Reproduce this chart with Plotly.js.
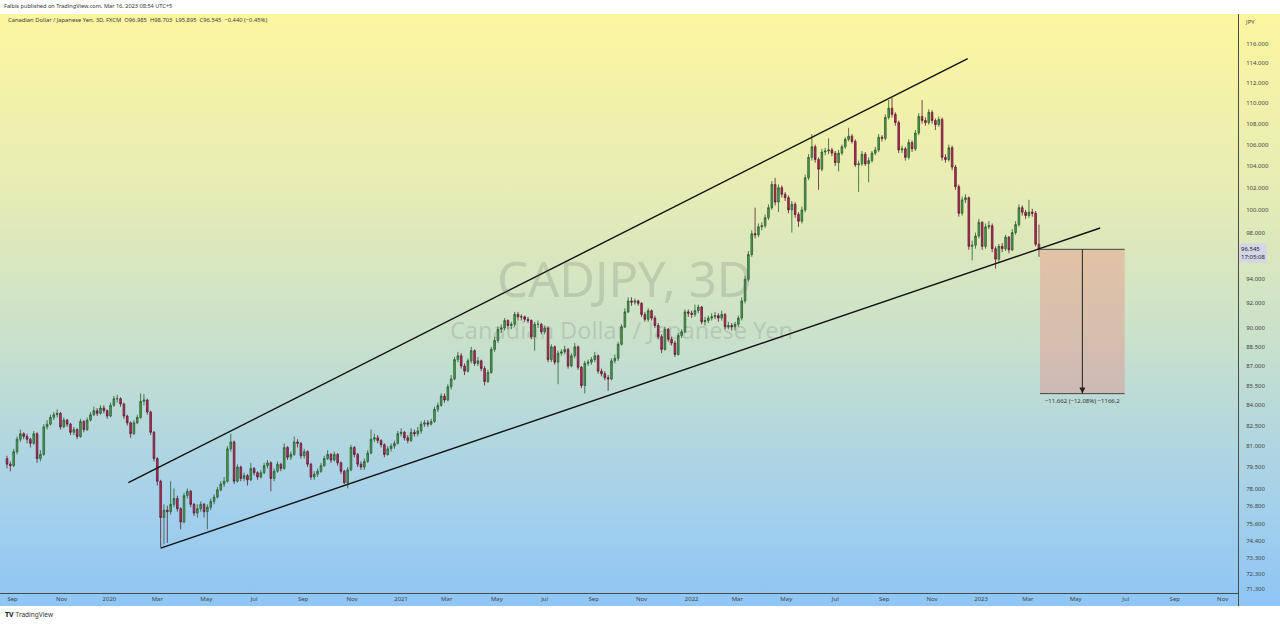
<!DOCTYPE html>
<html><head><meta charset="utf-8">
<script src="https://cdn.plot.ly/plotly-3.0.1.min.js"></script>
<style>
html,body{margin:0;padding:0;width:1280px;height:624px;overflow:hidden;background:#fff;font-family:"Noto Sans","DejaVu Sans",sans-serif;}
#bg{position:absolute;left:0;top:14px;width:1280px;height:592px;background:linear-gradient(to bottom,#fdf6a0 0%,#e6ecb4 30%,#c9e1cb 55%,#aad3e6 78%,#8fc6f6 100%);}
#plot{position:absolute;left:0;top:0;width:1280px;height:624px;}
#hdr{position:absolute;left:4px;top:2px;font-size:5.6px;color:#333;white-space:nowrap;}
#leg{position:absolute;left:8px;top:16px;font-size:5.8px;color:#3a3a3a;white-space:nowrap;}
#ftr{position:absolute;left:5px;top:610px;font-size:6.5px;color:#333;white-space:nowrap;}
#ftr b{font-size:7px;color:#111;margin-right:2px;}
#vline{position:absolute;left:1238px;top:593px;width:1px;height:13px;background:#4a4a4a;}
</style></head>
<body>
<div id="bg"></div>
<div id="vline"></div>
<div id="plot"></div>
<div id="hdr">Falbis published on TradingView.com, Mar 16, 2023 08:54 UTC+5</div>
<div id="leg">Canadian Dollar / Japanese Yen, 3D, FXCM&nbsp; O96.985&nbsp; H98.703&nbsp; L95.895&nbsp; C96.545&nbsp; −0.440 (−0.45%)</div>
<div id="ftr"><b>TV</b>TradingView</div>
<script>
// ---- data (3-day candles, FX: open = previous close) ----
const startDate = '2019-08-26';
const firstOpen = 80.1;
const closes = [
79.7,79.6,80.6,81.5,81.9,81.7,81.5,81.2,81.9,80.1,
80.4,82.4,82.6,83.1,83.3,83.4,82.4,82.9,82.6,82.0,
82.2,81.7,82.8,82.2,82.9,83.3,83.6,83.4,83.8,83.6,
83.2,84.0,84.5,84.5,84.1,83.2,82.7,81.9,82.7,83.1,
84.3,84.4,83.5,82.0,80.1,78.5,76.0,76.5,76.4,76.9,
77.3,76.6,75.7,77.5,77.8,76.9,76.3,76.6,76.9,76.4,
76.7,77.1,77.4,77.9,78.3,78.5,80.8,81.3,78.5,79.5,
78.7,78.9,78.6,79.4,79.1,78.8,79.1,79.6,79.8,78.7,
79.2,79.7,79.4,80.9,80.2,80.4,81.3,81.2,80.3,80.6,
79.7,78.8,79.0,79.2,79.6,80.1,80.4,80.0,80.4,79.8,
79.2,78.4,79.3,80.9,80.4,79.7,79.5,79.9,80.5,81.5,
81.6,81.4,81.1,80.4,80.8,81.0,81.2,81.9,82.0,81.6,
81.4,82.0,81.9,82.1,82.6,82.7,82.6,82.8,83.7,84.0,
84.7,84.4,85.4,86.0,87.5,87.8,87.0,86.6,87.4,88.2,
87.2,87.4,86.8,85.8,86.5,88.3,89.0,89.9,90.0,90.6,
90.2,90.3,91.1,90.9,90.9,90.7,90.6,89.3,90.3,90.3,
89.7,90.0,87.5,88.5,87.3,88.0,88.1,88.3,87.0,87.8,
88.5,86.9,85.5,87.2,87.3,87.5,87.8,86.6,86.4,86.1,
86.0,87.4,87.6,88.7,90.1,91.3,92.2,92.1,92.2,92.0,
91.1,90.7,91.4,90.8,90.2,89.3,88.3,89.9,89.1,88.8,
87.9,89.4,89.7,91.3,91.2,91.1,91.4,91.7,90.5,90.6,
90.8,90.9,91.0,90.8,91.1,90.1,90.2,90.1,90.3,90.8,
92.2,94.0,96.1,97.9,97.8,98.5,98.6,99.3,100.2,102.3,
100.7,102.0,101.4,101.1,100.0,100.5,99.6,99.0,100.0,102.9,
104.8,105.8,104.6,103.7,105.3,105.4,105.5,105.2,104.3,105.2,
105.8,106.5,106.8,106.3,104.1,104.2,105.1,104.2,104.5,105.2,
105.5,106.7,106.6,108.6,109.5,108.9,108.1,105.5,105.6,104.8,
106.2,105.6,107.1,108.7,108.3,108.1,109.1,108.3,107.9,108.4,
104.8,104.6,105.7,103.9,102.1,99.7,100.9,101.1,96.8,96.9,
97.7,98.9,96.8,98.5,98.6,96.6,95.7,96.8,96.6,97.6,
96.5,98.0,98.7,100.2,99.8,99.5,99.8,99.7,96.985,96.545];
const highs = [
80.3,79.9,80.8,81.7,82.2,82.0,81.9,81.6,82.1,82.0,
80.7,82.6,82.9,83.3,83.5,83.7,83.5,83.1,83.0,82.7,
82.4,82.3,83.0,82.9,83.1,83.5,83.9,83.8,84.0,84.0,
83.7,84.2,84.7,84.8,84.6,84.2,83.3,82.8,82.9,83.3,
84.9,84.85,84.5,83.6,82.1,80.2,78.6,76.9,76.8,78.5,
78.0,77.5,76.7,77.7,78.0,77.9,77.0,76.9,77.1,77.0,
76.9,77.3,77.6,78.1,78.5,78.8,81.0,81.9,81.4,79.7,
79.6,79.1,79.0,79.8,79.5,79.2,79.3,79.8,80.0,79.9,
79.4,79.9,79.8,81.2,81.0,80.6,81.7,81.5,81.3,80.8,
80.7,79.8,79.2,79.4,79.8,80.3,80.7,80.5,80.6,80.5,
79.9,79.3,79.5,81.1,81.0,80.5,79.9,80.1,80.7,82.2,
81.9,81.8,81.5,81.2,81.0,81.2,81.4,82.1,82.3,82.1,
81.8,82.3,82.2,82.4,82.8,82.9,82.9,83.0,83.9,84.2,
84.9,84.9,85.6,86.3,87.7,88.1,88.0,87.2,87.6,88.5,
88.3,87.7,87.5,87.0,86.7,88.5,89.3,90.1,90.3,90.8,
90.7,90.5,91.3,91.3,91.1,91.0,90.9,90.7,90.5,90.6,
90.4,90.2,90.1,88.7,88.6,88.2,88.3,88.6,88.4,88.0,
88.8,88.6,87.0,87.4,87.5,87.7,88.1,87.9,86.8,86.6,
86.3,87.6,87.9,88.9,90.3,91.6,92.5,92.5,92.4,92.3,
92.1,91.3,91.6,91.5,91.0,90.4,89.5,90.1,90.0,89.3,
89.0,89.6,89.9,91.5,91.5,91.4,91.9,91.9,91.8,90.9,
91.0,91.2,91.3,91.2,91.4,91.2,90.5,90.4,90.5,91.0,
92.5,94.3,96.4,98.2,100.2,98.8,98.9,99.6,100.5,102.6,
102.9,102.3,102.2,101.6,101.3,100.8,100.7,99.8,100.3,103.2,
105.1,107.0,106.0,104.8,105.6,105.7,106.6,105.7,105.4,105.5,
106.0,106.7,107.6,107.0,106.5,104.5,105.4,105.3,104.8,105.4,
105.8,107.0,106.9,108.9,110.3,110.5,109.1,108.3,105.9,105.8,
106.5,106.4,107.4,109.0,110.3,108.6,109.4,109.3,108.5,108.7,
108.6,105.1,106.0,105.9,104.1,102.3,101.2,101.4,101.2,97.3,
98.0,99.2,99.0,98.8,99.0,98.8,96.8,97.0,97.1,97.8,
97.7,98.3,99.0,100.5,100.4,100.0,100.9,100.1,99.9,98.703];
const lows = [
79.4,79.2,79.5,80.4,81.3,81.5,81.2,80.9,81.1,79.8,
79.9,80.3,82.2,82.5,82.9,83.1,82.2,82.3,82.4,81.8,
81.8,81.5,81.6,82.0,82.1,82.8,83.2,83.2,83.3,83.4,
83.0,83.1,83.9,84.2,83.9,83.0,82.5,81.6,81.8,82.6,
83.0,84.0,83.3,81.8,79.9,78.2,74.0,74.2,74.3,76.2,
76.7,76.4,75.2,75.6,77.3,76.7,76.1,76.0,76.4,76.0,
75.2,76.5,76.9,77.3,77.8,78.1,78.4,80.6,78.3,78.4,
78.5,78.5,78.2,78.5,78.9,78.6,78.7,79.0,79.4,77.8,
78.5,79.1,79.2,79.3,80.0,80.0,80.3,80.9,80.1,80.1,
79.5,78.6,78.6,78.8,79.1,79.5,80.0,79.8,79.9,79.6,
79.0,78.3,78.0,79.2,80.2,79.5,79.3,79.3,79.8,80.4,
81.3,81.2,80.9,80.2,80.3,80.6,80.8,81.1,81.7,81.4,
81.2,81.3,81.7,81.7,81.9,82.4,82.4,82.5,82.7,83.5,
83.9,84.2,84.3,85.2,85.9,87.3,86.8,86.3,86.5,87.2,
87.0,87.0,86.6,85.5,85.7,86.4,88.1,88.8,89.6,89.8,
89.9,89.9,90.1,90.6,90.6,90.5,90.4,89.1,88.2,90.0,
89.5,89.5,87.3,87.3,87.1,85.6,87.8,87.9,86.8,86.9,
87.6,86.7,85.3,84.9,87.0,87.1,87.3,86.4,86.2,85.9,
85.1,85.9,87.2,87.4,88.6,90.0,91.2,91.8,91.9,91.8,
90.9,90.5,90.5,90.6,90.0,89.1,88.0,88.2,88.9,88.6,
87.7,87.8,89.2,89.6,90.9,90.8,90.9,91.2,90.3,90.2,
90.4,90.6,90.7,90.5,90.6,89.9,89.9,89.8,89.8,90.1,
90.6,92.0,93.8,95.9,97.5,97.6,98.2,98.4,99.1,100.0,
100.4,99.8,101.1,100.8,99.7,98.0,99.3,98.5,98.8,99.8,
102.7,104.5,104.3,101.8,103.5,105.0,105.1,104.9,104.0,103.5,
105.0,105.6,106.3,106.1,103.9,101.6,104.0,104.0,102.5,104.3,
105.0,105.3,106.3,106.4,108.4,108.6,107.8,105.2,105.2,104.5,
104.6,105.3,105.4,106.9,108.0,107.8,107.9,108.0,107.4,107.7,
104.5,104.3,104.4,103.6,101.8,99.4,99.5,100.6,96.5,95.6,
96.6,97.5,96.5,96.6,98.3,96.3,94.9,95.4,96.3,96.4,
96.2,96.4,97.8,98.5,99.5,99.2,99.3,99.4,96.8,95.895];

const yTickVals = [71.3,72.3,73.3,74.4,75.6,76.8,78,79.5,81,82.5,84,85.5,87,88.5,90,92,94,98,100,102,104,106,108,110,112,114,116];
const xTickDates = ['2019-09-01','2019-11-01','2020-01-01','2020-03-01','2020-05-01','2020-07-01','2020-09-01','2020-11-01',
 '2021-01-01','2021-03-01','2021-05-01','2021-07-01','2021-09-01','2021-11-01','2022-01-01','2022-03-01','2022-05-01',
 '2022-07-01','2022-09-01','2022-11-01','2023-01-01','2023-03-01','2023-05-01','2023-07-01','2023-09-01','2023-11-01'];
const xTickLabels = ['Sep','Nov','2020','Mar','May','Jul','Sep','Nov','2021','Mar','May','Jul','Sep','Nov','2022','Mar','May',
 'Jul','Sep','Nov','2023','Mar','May','Jul','Sep','Nov'];

// trend lines
const upperDates = ['2020-01-24','2022-12-15'];
const upperPrices = [78.4,114.46];
const lowerDates = ['2020-03-05','2023-05-31'];
const lowerPrices = [73.95,98.4];
// price-range measure
const measureDates = ['2023-03-16','2023-06-30'];
const measureTop = 96.545;
const measureBottom = 84.883;
const measureText = '−11.662 (−12.08%) −1166.2';
const lastPrice = 96.545;
const lastTimer = '17:05:08';

// ---- mapping: 3-trading-day bar index ----
function barIndex(ds){
  const s = new Date(startDate+'T00:00:00Z'), d = new Date(ds+'T00:00:00Z');
  let n = 0; const cur = new Date(s);
  if (d >= s){ while(cur < d){ const w=cur.getUTCDay(); if(w!==0&&w!==6) n++; cur.setUTCDate(cur.getUTCDate()+1);} }
  else { while(cur > d){ cur.setUTCDate(cur.getUTCDate()-1); const w=cur.getUTCDay(); if(w!==0&&w!==6) n--; } }
  return n/3;
}
const idx = closes.map((_,i)=>i);
const opens = closes.map((c,i)=> i===0 ? firstOpen : closes[i-1]);

const traces = [
 {type:'candlestick', x:idx, open:opens, high:highs, low:lows, close:closes,
  increasing:{line:{color:'#2d5c31',width:0.8}, fillcolor:'#4ba451'},
  decreasing:{line:{color:'#5e1a33',width:0.8}, fillcolor:'#c8285b'},
  whiskerwidth:0, hoverinfo:'skip'},
 {type:'scatter', mode:'lines', x:upperDates.map(barIndex), y:upperPrices, line:{color:'#111',width:1.4}, hoverinfo:'skip'},
 {type:'scatter', mode:'lines', x:lowerDates.map(barIndex), y:lowerPrices, line:{color:'#111',width:1.4}, hoverinfo:'skip'},
];
const mx0 = barIndex(measureDates[0]), mx1 = barIndex(measureDates[1]), mxm = (mx0+mx1)/2;
traces.push(
 {type:'scatter', mode:'lines', x:[mx0,mx1,mx1,mx0,mx0], y:[measureTop,measureTop,measureBottom,measureBottom,measureTop],
  fill:'toself', fillcolor:'rgba(242,110,110,0.30)', line:{width:0}, hoverinfo:'skip'},
 {type:'scatter', mode:'lines', x:[mx0,mx1], y:[measureTop,measureTop], line:{color:'#444',width:1}, hoverinfo:'skip'},
 {type:'scatter', mode:'lines', x:[mx0,mx1], y:[measureBottom,measureBottom], line:{color:'#444',width:1}, hoverinfo:'skip'},
 {type:'scatter', mode:'lines', x:[mxm,mxm], y:[measureTop,measureBottom], line:{color:'#222',width:1}, hoverinfo:'skip'},
 {type:'scatter', mode:'markers+text', x:[mxm], y:[measureBottom], marker:{symbol:'arrow-down', size:6, color:'#222'},
  text:[measureText], textposition:'bottom center', textfont:{size:6,color:'#333'}, cliponaxis:false, hoverinfo:'skip'}
);

const layout = {
 width:1280, height:624, margin:{l:0,r:42,t:14,b:31},
 paper_bgcolor:'rgba(0,0,0,0)', plot_bgcolor:'rgba(0,0,0,0)', showlegend:false,
 font:{family:'"Noto Sans", "DejaVu Sans", sans-serif'},
 xaxis:{type:'linear', range:[-2.1,368.6], tickmode:'array', tickvals:xTickDates.map(barIndex), ticktext:xTickLabels,
   showgrid:false, zeroline:false, showline:true, linecolor:'#4a4a4a', linewidth:1, ticks:'',
   tickfont:{size:6,color:'#444'}, rangeslider:{visible:false}, fixedrange:true},
 yaxis:{type:'log', side:'right', range:[Math.log10(71.05), Math.log10(119.1)], tickmode:'array', tickvals:yTickVals,
   ticktext:yTickVals.map(v=>v.toFixed(3)), showgrid:false, zeroline:false, showline:true, linecolor:'#4a4a4a', linewidth:1,
   ticks:'', ticklabelstandoff:6, tickfont:{size:6,color:'#444'}, fixedrange:true},
 annotations:[
  {xref:'paper', yref:'paper', x:0.505, y:0.544, text:'CADJPY, 3D', showarrow:false,
   font:{size:49,color:'rgba(95,95,95,0.20)'}},
  {xref:'paper', yref:'paper', x:0.502, y:0.454, text:'Canadian Dollar / Japanese Yen', showarrow:false,
   font:{size:23.5,color:'rgba(95,95,95,0.20)'}},
  {xref:'paper', yref:'paper', x:1, y:1, xanchor:'left', yanchor:'top', xshift:5, yshift:-2, text:'JPY', showarrow:false,
   font:{size:6,color:'#444'}},
  {xref:'paper', yref:'y', x:1, y:Math.log10(lastPrice), xanchor:'left', yanchor:'middle', xshift:1, yshift:-4,
   text:lastPrice.toFixed(3)+'<br>'+lastTimer, showarrow:false, align:'left', bgcolor:'#d4d5e8', borderpad:1,
   font:{size:6,color:'#222'}}
 ]
};
Plotly.newPlot('plot', traces, layout, {staticPlot:true, displayModeBar:false});
</script>
</body></html>
